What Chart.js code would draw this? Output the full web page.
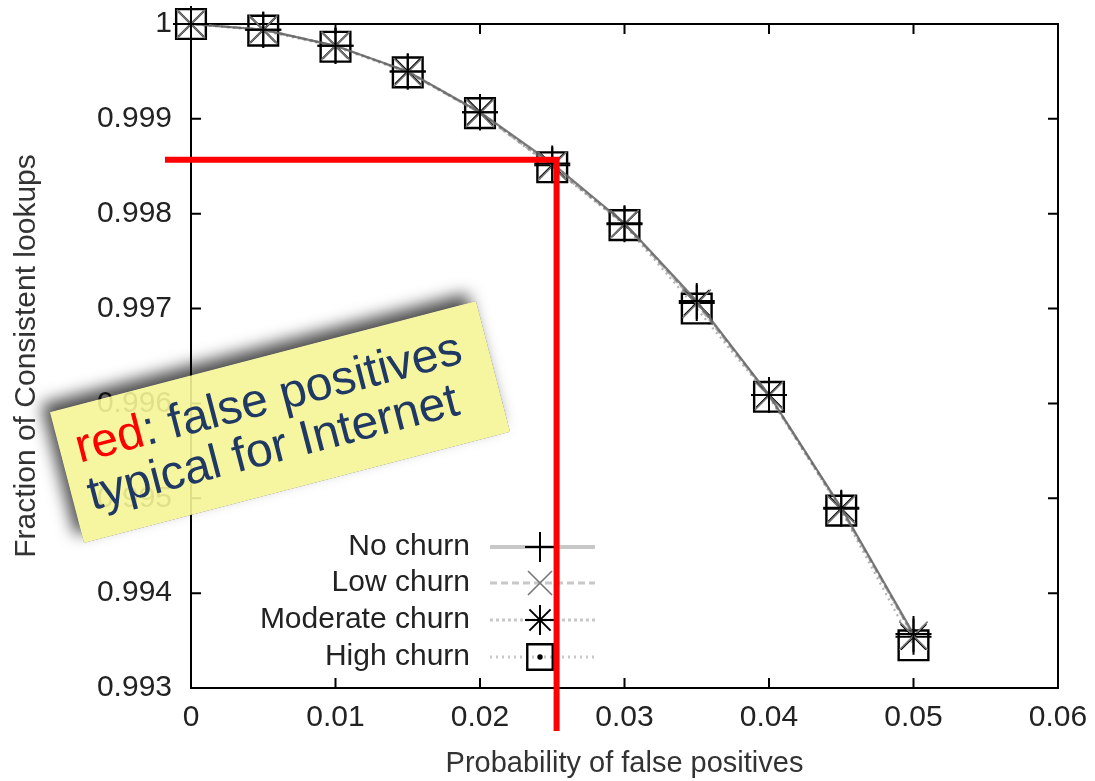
<!DOCTYPE html>
<html>
<head>
<meta charset="utf-8">
<script src="https://cdn.jsdelivr.net/npm/chart.js@4.4.0/dist/chart.umd.min.js"></script>
<style>
  html, body { margin: 0; padding: 0; background: #fff; }
  #wrap { width: 1095px; height: 781px; }
</style>
</head>
<body>
<div id="wrap"><canvas id="lookupChart" width="1095" height="781"></canvas></div>
<script>
// Probability of false positives (x values)
const fpProb = [0, 0.005, 0.01, 0.015, 0.02, 0.025, 0.03, 0.035, 0.04, 0.045, 0.05];

// Fraction of consistent lookups
const noChurn       = [1.0, 0.99994, 0.99977, 0.99950, 0.99907, 0.99853, 0.99790, 0.99708, 0.99609, 0.99490, 0.99357];
const lowChurn      = [1.0, 0.99994, 0.99977, 0.99949, 0.99906, 0.99850, 0.99789, 0.99705, 0.99608, 0.99488, 0.99355];
const moderateChurn = [1.0, 0.99994, 0.99977, 0.99950, 0.99907, 0.99851, 0.99789, 0.99706, 0.99609, 0.99489, 0.99354];
const highChurn     = [1.0, 0.99993, 0.99976, 0.99949, 0.99906, 0.99849, 0.99788, 0.99700, 0.99607, 0.99487, 0.99345];

const seriesNames = ['No churn', 'Low churn', 'Moderate churn', 'High churn'];

// Tick labels
const xTicks = [0, 0.01, 0.02, 0.03, 0.04, 0.05, 0.06];
const yTicks = [0.993, 0.994, 0.995, 0.996, 0.997, 0.998, 0.999, 1];

// Red guide lines drawn on the slide
const redGuide = { x: 0.0253, y: 0.99857 };

const FONT = "'Liberation Sans', Arial, Helvetica, sans-serif";
Chart.defaults.font.family = FONT;
Chart.defaults.font.size = 30;
Chart.defaults.color = '#222';

// marker styles per series (gnuplot look)
const markerStyles = [
    { style: 'cross',    radius: 18, color: '#000', width: 2 },
    { style: 'crossRot', radius: 20, color: '#777', width: 1.6 },
    { style: 'star',     radius: 18, color: '#000', width: 2 },
    { style: 'rect',     radius: 21, color: '#000', width: 2.4 }
];
const lineDashes = [[], [7, 4], [3, 3], [2, 4]];

function toPoints(values) {
    return fpProb.map(function(x, i) { return { x: x, y: values[i] }; });
}

function drawMarker(ctx, m, x, y) {
    const r = m.radius;
    ctx.save();
    ctx.strokeStyle = m.color;
    ctx.lineWidth = m.width;
    ctx.setLineDash([]);
    ctx.beginPath();
    if (m.style === 'cross' || m.style === 'star') {
        ctx.moveTo(x, y - r); ctx.lineTo(x, y + r);
        ctx.moveTo(x - r, y); ctx.lineTo(x + r, y);
    }
    if (m.style === 'crossRot' || m.style === 'star') {
        const d = r * Math.SQRT1_2;
        ctx.moveTo(x - d, y - d); ctx.lineTo(x + d, y + d);
        ctx.moveTo(x - d, y + d); ctx.lineTo(x + d, y - d);
    }
    if (m.style === 'rect') {
        const s = r * Math.SQRT1_2;
        ctx.rect(x - s, y - s, 2 * s, 2 * s);
        ctx.stroke();
        ctx.beginPath();
        ctx.fillStyle = m.color;
        ctx.arc(x, y, 1.5, 0, Math.PI * 2);
        ctx.fill();
    }
    ctx.stroke();
    ctx.restore();
}

// Box frame with inward ticks like gnuplot
const framePlugin = {
    id: 'frame',
    beforeDatasetsDraw(chart) {
        const ctx = chart.ctx;
        const a = chart.chartArea;
        const xs = chart.scales.x, ys = chart.scales.y;
        ctx.save();
        ctx.strokeStyle = '#000';
        ctx.lineWidth = 2;
        ctx.strokeRect(a.left, a.top, a.right - a.left, a.bottom - a.top);
        ctx.beginPath();
        xTicks.forEach(function(v) {
            const px = xs.getPixelForValue(v);
            ctx.moveTo(px, a.bottom); ctx.lineTo(px, a.bottom - 10);
            ctx.moveTo(px, a.top); ctx.lineTo(px, a.top + 10);
        });
        yTicks.forEach(function(v) {
            const py = ys.getPixelForValue(v);
            ctx.moveTo(a.left, py); ctx.lineTo(a.left + 10, py);
            ctx.moveTo(a.right, py); ctx.lineTo(a.right - 10, py);
        });
        ctx.stroke();
        ctx.restore();
    }
};

// gnuplot key inside the plot, text right aligned
const keyPlugin = {
    id: 'key',
    afterDatasetsDraw(chart) {
        const ctx = chart.ctx;
        const rows = [547, 583, 620, 657];
        const textRight = 470, lineFrom = 490, lineTo = 595, markX = 540;
        ctx.save();
        ctx.font = '30px ' + FONT;
        ctx.textAlign = 'right';
        ctx.textBaseline = 'middle';
        seriesNames.forEach(function(name, i) {
            const y = rows[i];
            ctx.fillStyle = '#222';
            ctx.fillText(name, textRight, y);
            ctx.strokeStyle = '#c8c8c8';
            ctx.lineWidth = i === 0 ? 4 : 3;
            ctx.setLineDash(lineDashes[i]);
            ctx.beginPath();
            ctx.moveTo(lineFrom, y); ctx.lineTo(lineTo, y);
            ctx.stroke();
            ctx.setLineDash([]);
            const m = Object.assign({}, markerStyles[i], { radius: markerStyles[i].radius - 3 });
            drawMarker(ctx, m, markX, y);
        });
        ctx.restore();
    }
};

// red guide lines and the yellow note
const notePlugin = {
    id: 'note',
    afterDraw(chart) {
        const ctx = chart.ctx;
        const xs = chart.scales.x, ys = chart.scales.y;
        const gx = xs.getPixelForValue(redGuide.x);
        const gy = ys.getPixelForValue(redGuide.y);

        ctx.save();
        ctx.strokeStyle = '#ff0000';
        ctx.lineWidth = 6;
        ctx.beginPath();
        ctx.moveTo(165, gy); ctx.lineTo(gx + 3, gy);
        ctx.moveTo(gx, gy - 3); ctx.lineTo(gx, 731);
        ctx.stroke();
        ctx.restore();

        const cx = 280, cy = 422, w = 440, h = 135;
        const ang = -14.6 * Math.PI / 180;
        ctx.save();
        ctx.translate(cx, cy);
        ctx.rotate(ang);

        // shadow only outside the note so the translucent fill stays clean
        ctx.save();
        ctx.beginPath();
        ctx.rect(-2000, -2000, 4000, 4000);
        ctx.rect(-w / 2, -h / 2, w, h);
        ctx.clip('evenodd');
        ctx.shadowColor = 'rgba(0,0,0,0.7)';
        ctx.shadowBlur = 16;
        ctx.shadowOffsetX = -9;
        ctx.shadowOffsetY = -8;
        ctx.fillStyle = '#000';
        ctx.fillRect(-w / 2, -h / 2, w, h);
        ctx.restore();

        ctx.fillStyle = 'rgba(245, 245, 150, 0.9)';
        ctx.fillRect(-w / 2, -h / 2, w, h);

        ctx.font = '48px ' + FONT;
        ctx.textAlign = 'left';
        ctx.textBaseline = 'alphabetic';
        const x0 = -204;
        ctx.fillStyle = '#ff0000';
        ctx.fillText('red', x0, -11);
        const rw = ctx.measureText('red').width;
        ctx.fillStyle = '#1f3864';
        ctx.fillText(': false positives', x0 + rw, -11);
        ctx.fillText('typical for Internet', x0, 38);
        ctx.restore();
    }
};

const datasets = [noChurn, lowChurn, moderateChurn, highChurn].map(function(values, i) {
    const m = markerStyles[i];
    return {
        label: seriesNames[i],
        data: toPoints(values),
        borderColor: i === 0 ? 'rgba(100,100,100,0.85)' : 'rgba(130,130,130,0.6)',
        borderWidth: 2.2,
        borderDash: lineDashes[i],
        tension: 0,
        fill: false,
        clip: false,
        pointStyle: m.style,
        pointRadius: m.radius,
        pointBorderColor: m.color,
        pointBackgroundColor: 'rgba(0,0,0,0)',
        pointBorderWidth: m.width,
        pointHoverRadius: m.radius
    };
});

const ctx = document.getElementById('lookupChart').getContext('2d');
const chart = new Chart(ctx, {
    type: 'line',
    data: { datasets: datasets },
    options: {
        responsive: false,
        animation: false,
        layout: { padding: { left: 0, right: 37, top: 24, bottom: 0 } },
        plugins: {
            legend: { display: false },
            tooltip: { enabled: false }
        },
        scales: {
            x: {
                type: 'linear',
                min: 0,
                max: 0.06,
                afterBuildTicks: function(scale) {
                    scale.ticks = xTicks.map(function(v) { return { value: v }; });
                },
                afterFit: function(scale) {
                    scale.height = 93;
                    scale.paddingLeft = 0;
                    scale.paddingRight = 0;
                },
                grid: { display: false, drawTicks: false },
                border: { display: false },
                ticks: {
                    padding: 12,
                    maxRotation: 0,
                    color: '#222',
                    callback: function(v) { return String(Number(v.toFixed(2))); }
                },
                title: {
                    display: true,
                    text: 'Probability of false positives',
                    color: '#333',
                    font: { size: 29 },
                    padding: { top: 0, bottom: 0 }
                }
            },
            y: {
                type: 'linear',
                min: 0.993,
                max: 1,
                afterBuildTicks: function(scale) {
                    scale.ticks = yTicks.map(function(v) { return { value: v }; });
                },
                afterFit: function(scale) {
                    scale.width = 191;
                    scale.paddingTop = 0;
                    scale.paddingBottom = 0;
                },
                grid: { display: false, drawTicks: false },
                border: { display: false },
                ticks: {
                    padding: 19,
                    color: '#222',
                    callback: function(v) { return String(Number(v.toFixed(3))); }
                },
                title: {
                    display: true,
                    text: 'Fraction of Consistent lookups',
                    color: '#333',
                    font: { size: 30 },
                    padding: { top: 9, bottom: 0 }
                }
            }
        }
    },
    plugins: [framePlugin, keyPlugin, notePlugin]
});
</script>
</body>
</html>
